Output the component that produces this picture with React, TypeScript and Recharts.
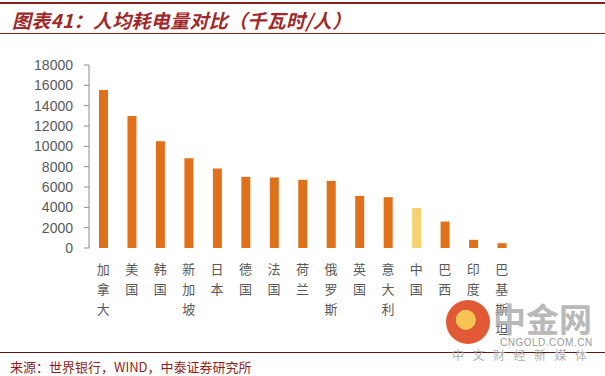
import { BarChart, Bar, XAxis, YAxis, Cell } from 'recharts';

const countries = ['加拿大', '美国', '韩国', '新加坡', '日本', '德国', '法国', '荷兰', '俄罗斯', '英国', '意大利', '中国', '巴西', '印度', '巴基斯坦'];
const usage = [15540, 12980, 10500, 8840, 7820, 7000, 6940, 6710, 6600, 5130, 5000, 3930, 2600, 805, 470];
const yTicks = [0, 2000, 4000, 6000, 8000, 10000, 12000, 14000, 16000, 18000];
const boundaryTicks = [0, 1, 2, 3, 4, 5, 6, 7, 8, 9, 10, 11, 12, 13, 14, 15];
const highlight = '中国';

const data = countries.map((name, i) => ({ name, value: usage[i], idx: i + 0.5 }));

const ORANGE = '#E0711A';
const YELLOW = '#F6D26F';
const DARK_RED = '#8E1F21';
const AXIS = '#8c8c8c';
const TEXT = '#595959';

function VerticalTick(props: any) {
  const { x, y, payload } = props;
  const chars = String(payload.value).split('');
  return (
    <text x={x} y={y + 18} textAnchor="middle" fill={TEXT} fontSize={13} fontFamily='"Noto Sans CJK SC", sans-serif'>
      {chars.map((c, i) => (
        <tspan key={i} x={x} dy={i === 0 ? 0 : 20}>{c}</tspan>
      ))}
    </text>
  );
}

export default function App() {
  return (
    <div style={{ position: 'absolute', left: 0, top: 0, width: 605, height: 376, background: '#fff', overflow: 'hidden', fontFamily: '"Noto Sans CJK SC", sans-serif' }}>
      <div style={{ position: 'absolute', left: 0, top: 2, width: 605, height: 2, background: DARK_RED }} />
      <div style={{ position: 'absolute', left: 12, top: 6, fontSize: 19, fontWeight: 700, fontStyle: 'italic', color: '#A0292B', letterSpacing: 0.3, whiteSpace: 'nowrap' }}>
        图表41：人均耗电量对比（千瓦时/人）
      </div>
      <div style={{ position: 'absolute', left: 0, top: 33, width: 605, height: 1, background: DARK_RED }} />

      <div style={{ position: 'absolute', left: 0, top: 0 }}>
        <BarChart width={605} height={376} data={data} margin={{ top: 65, right: 89, left: 29, bottom: 48 }}>
          <XAxis
            dataKey="name"
            xAxisId="cat"
            axisLine={false}
            tickLine={false}
            interval={0}
            height={80}
            tick={<VerticalTick />}
          />
          <XAxis
            xAxisId="grid"
            type="number"
            dataKey="idx"
            domain={[0, 15]}
            ticks={boundaryTicks}
            tick={false}
            tickSize={4}
            axisLine={{ stroke: AXIS }}
            tickLine={{ stroke: AXIS }}
            height={0}
          />
          <YAxis
            domain={[0, 18000]}
            ticks={yTicks}
            interval={0}
            width={60}
            tickSize={5}
            tickMargin={11}
            axisLine={{ stroke: AXIS }}
            tickLine={{ stroke: AXIS }}
            tick={{ fontSize: 14, fill: TEXT, fontFamily: '"Liberation Sans", Arial, sans-serif' }}
          />
          <Bar dataKey="value" xAxisId="cat" barSize={9} isAnimationActive={false}>
            {data.map((d) => (
              <Cell key={d.name} fill={d.name === highlight ? YELLOW : ORANGE} />
            ))}
          </Bar>
        </BarChart>
      </div>

      {/* watermark */}
      <div style={{ position: 'absolute', left: 446, top: 300, width: 44, height: 44, borderRadius: 22, background: 'radial-gradient(circle at 45% 45%, #F6C24A 0 28%, #E0502A 30% 100%)', opacity: 0.95 }} />
      <div style={{ position: 'absolute', left: 493, top: 294, fontSize: 33, fontWeight: 700, color: '#a8a8a8', opacity: 0.8, whiteSpace: 'nowrap' }}>中金网</div>
      <div style={{ position: 'absolute', left: 500, top: 337, fontSize: 10, color: '#9a9a9a', fontFamily: '"Liberation Sans", Arial, sans-serif', letterSpacing: 0.5, whiteSpace: 'nowrap' }}>CNGOLD.COM.CN</div>

      <div style={{ position: 'absolute', left: 0, top: 352, width: 605, height: 1, background: '#5a1a1a' }} />
      <div style={{ position: 'absolute', left: 452, top: 346, fontSize: 12, color: '#b0b0b0', letterSpacing: 8.5, whiteSpace: 'nowrap' }}>中文财经新媒体</div>
      <div style={{ position: 'absolute', left: 10, top: 357, fontSize: 13, color: DARK_RED, whiteSpace: 'nowrap' }}>
        来源：世界银行，WIND，中泰证券研究所
      </div>
    </div>
  );
}
